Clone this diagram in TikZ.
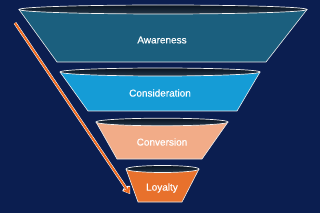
\documentclass[tikz,border=0pt]{standalone}
\usepackage{fontspec}
\setmainfont{Liberation Sans}
\newfontfamily\labelfont[FakeBold=0.35]{Liberation Sans}
\usetikzlibrary{arrows.meta}
\definecolor{bgnavy}{HTML}{0B1E50}
\definecolor{tierA}{HTML}{1B5F7E}
\definecolor{tierB}{HTML}{159CD6}
\definecolor{tierC}{HTML}{F2AC88}
\definecolor{tierD}{HTML}{E8712C}
\definecolor{rimdark}{HTML}{08121F}
\definecolor{rimlight}{HTML}{26384A}
\definecolor{arroworange}{HTML}{F06A1E}
\tikzset{
  tier/.style={draw=white!85!gray, line width=0.6pt, line join=round},
  rim/.style={draw=white!90!gray, line width=0.7pt, top color=rimdark, bottom color=rimlight},
  label/.style={text=white, font=\labelfont\fontsize{10}{12}\selectfont},
}
\newcommand{\funneltier}[8]{%
  \fill[#1] (#3,#2) -- (#6,#5) -- (#7,#5) -- (#4,#2) -- cycle;
  \draw[tier] (#3,#2) -- (#6,#5) -- (#7,#5) -- (#4,#2);
  \path[rim] ({(#3+#4)/2},#2) ellipse [x radius={(#4-#3)/2}, y radius=#8];
}
\begin{document}
\begin{tikzpicture}[x=1pt,y=-1pt]
\fill[bgnavy] (0,0) rectangle (320,213);
\useasboundingbox (0,0) rectangle (320,213);
\funneltier{tierA}{9.5}{19}{307}{62}{57}{266}{4.5}
\funneltier{tierB}{72}{60}{260}{111}{88}{237}{4}
\funneltier{tierC}{122}{96}{228}{159}{117}{202}{3.8}
\funneltier{tierD}{169}{126}{199}{202}{138}{182}{3.5}
\node[label] (awareness) at (162,40) {Awareness};
\node[label] (consideration) at (160,93) {Consideration};
\node[label] (conversion) at (162,142) {Conversion};
\node[label] (loyalty) at (162,188) {Loyalty};
\coordinate (arrstart) at (15,23);
\coordinate (arrend) at (130,194);
\draw[white, line width=2.9pt, -{Straight Barb[length=5pt,width=7pt]}] (arrstart) -- (arrend);
\draw[arroworange, line width=1.9pt, shorten >=0.5pt, -{Straight Barb[length=4.4pt,width=6pt]}] (arrstart) -- (arrend);
\end{tikzpicture}
\end{document}
